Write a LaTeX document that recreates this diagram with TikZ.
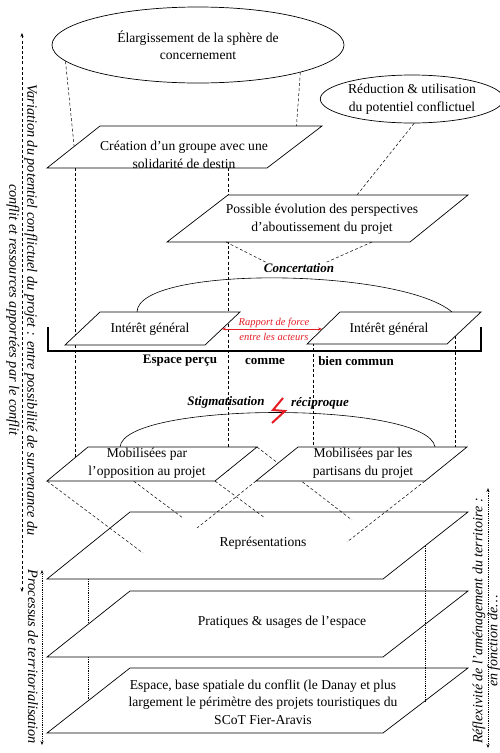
\documentclass[tikz,border=0pt]{standalone}
\usepackage{fontspec}
\setmainfont{Liberation Serif}
\usetikzlibrary{arrows.meta,shapes.geometric}
\definecolor{forcered}{RGB}{228,28,36}

\begin{document}
\begin{tikzpicture}[x=1pt,y=-1pt,line width=0.6pt,
    plane/.style={draw,fill=white,line width=0.7pt},
    link/.style={line width=0.5pt,dash pattern=on 3pt off 2.2pt},
    trace/.style={line width=0.6pt,dash pattern=on 0.8pt off 1pt},
    txt/.style={font=\fontsize{13.6}{17.5}\selectfont,align=center,inner sep=1pt},
    tag/.style={font=\fontsize{13}{15}\selectfont\bfseries\itshape,inner sep=1pt},
    base/.style={font=\fontsize{13}{15}\selectfont\bfseries,inner sep=1pt},
    side/.style={font=\fontsize{14.3}{18}\selectfont\itshape,align=center,inner sep=0pt},
    bubble/.style={draw,fill=white,ellipse,inner sep=0pt,line width=0.7pt,txt},
    twoway/.style={{Stealth[length=4pt,width=3pt]}-{Stealth[length=4pt,width=3pt]}}]
  \useasboundingbox (0,0) rectangle (500,753);

  % ellipses at the top
  \node[bubble,minimum width=292pt,minimum height=76pt] (sphere) at (198,45)
    {Élargissement de la sphère de\\concernement};
  \node[bubble,minimum width=176pt,minimum height=48pt] (reduce) at (412,99)
    {Réduction \& utilisation\\du potentiel conflictuel};

  % dashed guides, hidden behind the boxes drawn later
  \coordinate (crea-in) at (74.5,150);
  \coordinate (crea-edge) at (295,146.5);
  \draw[link] (sphere.187) -- (crea-in);
  \draw[link] (sphere.345) -- (crea-edge);
  \coordinate (g1-top) at (75,168);  \coordinate (g1-bot) at (75,458);
  \coordinate (g2-top) at (228,168); \coordinate (g2-bot) at (228,470.5);
  \coordinate (g3-top) at (313,338); \coordinate (g3-bot) at (313,447);
  \coordinate (g4-top) at (455,336); \coordinate (g4-bot) at (455,447);
  \foreach \g in {g1,g2,g3,g4} \draw[link] (\g-top) -- (\g-bot);

  % arcs of concertation and stigmatisation
  \coordinate (gen1-arc) at (137,312); \coordinate (gen2-arc) at (452,312);
  \draw (gen1-arc) .. controls (138,265) and (400,268) .. (gen2-arc);
  \coordinate (oppo-arc) at (120,447); \coordinate (part-arc) at (435,447);
  \draw (oppo-arc) .. controls (124,401) and (428,401) .. (part-arc);

  % upper boxes
  \draw[plane] (100,126) -- (322,126) -- (267,168) -- (47,168) -- cycle;
  \node[txt] (crea) at (184,155) {Création d’un groupe avec une\\solidarité de destin};
  \draw[plane] (228,195) -- (468,195) -- (410,242) -- (167,242) -- cycle;
  \node[txt] (evol) at (322,219) {Possible évolution des perspectives\\d’aboutissement du projet};
  \coordinate (evol-top) at (357,195);
  \draw[link] (reduce.275) -- (evol-top);
  \node[tag] (concert) at (299,268) {Concertation};
  \coordinate (evol-b1) at (226,242); \coordinate (evol-b2) at (372,242);
  \draw[link] (evol-b1) -- (concert.170);
  \draw[link] (evol-b2) -- (concert.12);

  % general interest on both sides
  \draw[plane] (100,312) -- (240,312) -- (205,345) -- (65,345) -- cycle;
  \node[txt] (gen1) at (150,329) {Intérêt général};
  \draw[plane] (340,312) -- (481,312) -- (447,344) -- (307,344) -- cycle;
  \node[txt] (gen2) at (389,329) {Intérêt général};
  \coordinate (gen1-e) at (222,329); \coordinate (gen2-w) at (322,329);
  \draw[forcered,line width=0.8pt,twoway] (gen1-e) -- (gen2-w);
  \node[font=\fontsize{10.5}{15}\selectfont\itshape,text=forcered,align=center,inner sep=0pt]
    (force) at (274,329.5) {Rapport de force\\entre les acteurs};

  % perceived space bracket
  \draw[line width=2pt] (48,327) -- (48,351) -- (481,351) -- (481,327);
  \node[base] (percu) at (180,361) {Espace perçu};
  \node[base] (comme) at (265,361) {comme};
  \node[base] (commun) at (356,361) {bien commun};

  % stigmatisation
  \node[tag] (stig) at (226,402) {Stigmatisation};
  \node[tag] (recip) at (320,403) {réciproque};
  \draw[forcered,line width=2pt] (283,398) -- (273,410) -- (285,411) -- (272,423);

  % representations plane and links from the mobilised groups
  \draw[plane] (130,512) -- (468,512) -- (383,579) -- (47,579) -- cycle;
  \node[txt] (repr) at (263,543) {Représentations};
  \coordinate (oppo-tl) at (88,447);  \coordinate (oppo-tr) at (257,447);
  \coordinate (oppo-br) at (215,481); \coordinate (oppo-bl) at (47,481);
  \coordinate (part-tl) at (298,447); \coordinate (part-tr) at (467,447);
  \coordinate (part-br) at (425,481); \coordinate (part-bl) at (256,481);
  \coordinate (repr-a) at (143,553); \coordinate (repr-b) at (183,518);
  \coordinate (repr-c) at (265,518); \coordinate (repr-d) at (352,520);
  \coordinate (repr-e) at (197,528); \coordinate (repr-f) at (347,542);
  \draw[link] (oppo-bl) -- (repr-a);
  \draw[link] (oppo-tl) -- (repr-b);
  \draw[link] (oppo-br) -- (repr-c);
  \draw[link] (oppo-tr) -- (repr-d);
  \draw[link] (part-bl) -- (repr-e);
  \draw[link] (part-br) -- (repr-f);

  % mobilised groups
  \draw[plane] (oppo-tl) -- (oppo-tr) -- (oppo-br) -- (oppo-bl) -- cycle;
  \node[txt] (oppo) at (147,463) {Mobilisées par\\l’opposition au projet};
  \draw[plane] (part-tl) -- (part-tr) -- (part-br) -- (part-bl) -- cycle;
  \node[txt] (part) at (363,463) {Mobilisées par les\\partisans du projet};

  % lower planes
  \draw[plane] (130,591) -- (468,591) -- (383,657) -- (47,657) -- cycle;
  \node[txt] (usage) at (282,622) {Pratiques \& usages de l’espace};
  \draw[plane] (130,668) -- (468,668) -- (383,733) -- (47,733) -- cycle;
  \node[txt] (terrain) at (263,702) {Espace, base spatiale du conflit (le Danay et plus\\largement le périmètre des projets touristiques du\\SCoT Fier-Aravis};

  % dotted projections between the planes
  \coordinate (t1-top) at (88,579);  \coordinate (t1-bot) at (88,624);
  \coordinate (t2-top) at (88,657);  \coordinate (t2-bot) at (88,701);
  \coordinate (t3-top) at (425,546); \coordinate (t3-bot) at (425,701);
  \foreach \t in {t1,t2,t3} \draw[trace] (\t-top) -- (\t-bot);

  % side arrows
  \coordinate (var-top) at (22,33); \coordinate (var-bot) at (22,592);
  \draw[link,twoway] (var-bot) -- (var-top);
  \node[side,rotate=-90] (var) at (22,310)
    {Variation du potentiel conflictuel du projet : entre possibilité de survenance du\\conflit et ressources apportées par le conflit};
  \coordinate (proc-top) at (42,570); \coordinate (proc-bot) at (42,745);
  \draw[trace,twoway] (proc-top) -- (proc-bot);
  \node[side,rotate=-90] (proc) at (33,657) {Processus de territorialisation};
  \coordinate (refl-top) at (488,488); \coordinate (refl-bot) at (488,748);
  \draw[trace,twoway] (refl-bot) -- (refl-top);
  \node[side,font=\fontsize{14}{18}\selectfont\itshape,rotate=90] (refl) at (479,621) {Réflexivité de l’aménagement du territoire :};
  \node[side,font=\fontsize{14}{18}\selectfont\itshape,rotate=90] (refl-more) at (494,641) {en fonction de…};
\end{tikzpicture}
\end{document}
